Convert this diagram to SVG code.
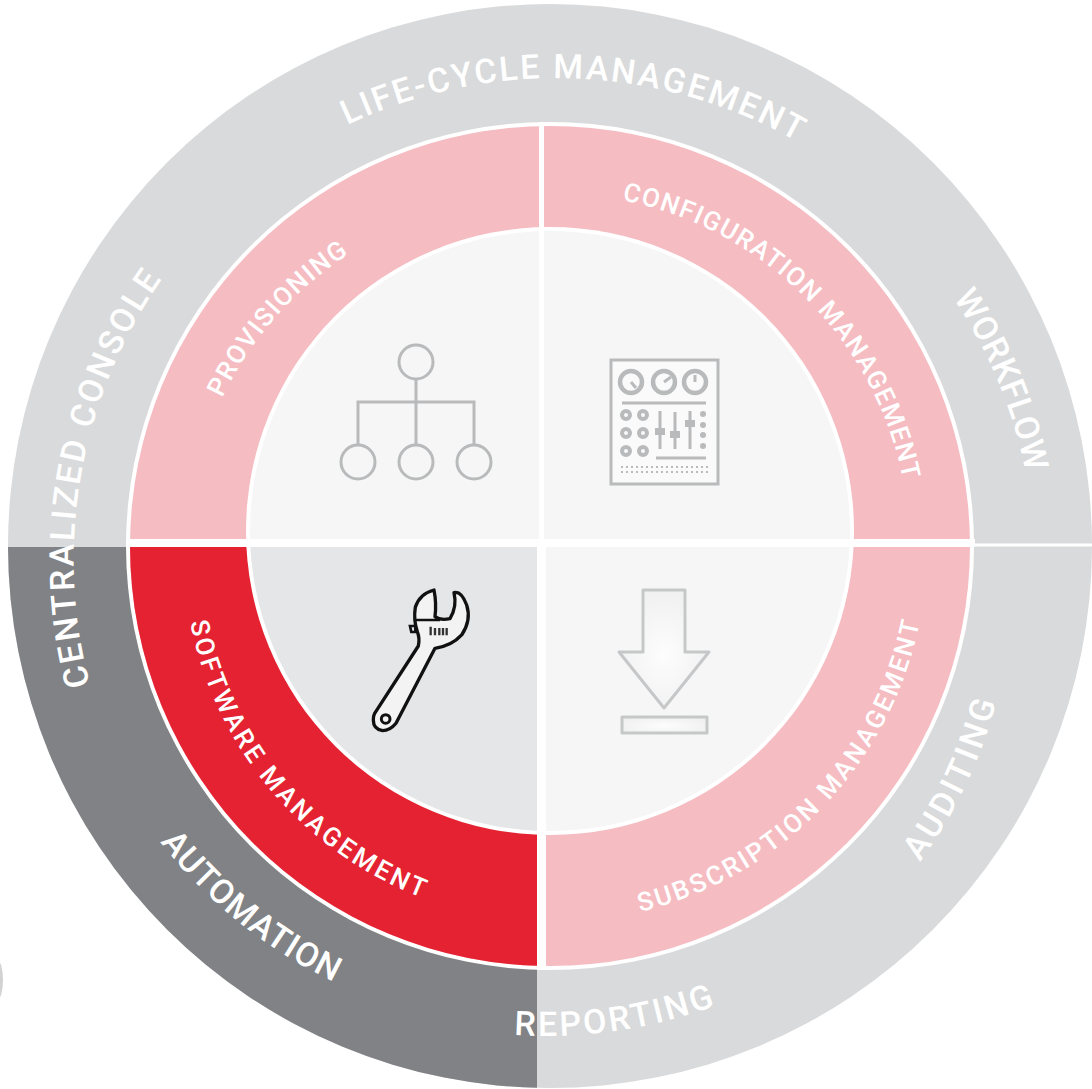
<svg xmlns="http://www.w3.org/2000/svg" width="1092" height="1089" viewBox="0 0 1092 1089">
<style>
.t{font-family:Roboto,"Liberation Sans",sans-serif;font-weight:500;fill:#fff}
.o{font-size:34px}
.p{font-size:26px}
.ic{fill:none;stroke:#b9babb;stroke-width:3}
.gl{fill:none;stroke:#b9babb;stroke-width:3}
.th{stroke-width:4.5}
.kn{stroke-width:4}
.ln{stroke-width:2}
.g{fill:#b9babb}
</style>
<defs>
<clipPath id="ll"><rect x="0" y="547" width="537" height="542"/></clipPath>
<radialGradient id="ag" cx="0.5" cy="0.55" r="0.6"><stop offset="0" stop-color="#fdfdfd"/><stop offset="1" stop-color="#efefef"/></radialGradient>
<path id="pLife" d="M347 125A490 490 0 0 1 803 145"/>
<path id="pCons" d="M90 685A490 490 0 0 1 170 268"/>
<path id="pWork" d="M953 298A480 480 0 0 1 1028 485"/>
<path id="pAudit" d="M920 862A480 480 0 0 0 998 695"/>
<path id="pRep" d="M514 1035A490 490 0 0 0 722 1003"/>
<path id="pAuto" d="M160 842A490 490 0 0 0 340 985"/>
<path id="pProv" d="M222 398A358 358 0 0 1 355 250"/>
<path id="pConf" d="M622 200A358 358 0 0 1 905 490"/>
<path id="pSoft" d="M190 622A372 372 0 0 0 428 900"/>
<path id="pSub" d="M640 912A375 375 0 0 0 922 610"/>
</defs>
<rect width="1092" height="1089" fill="#fff"/>
<ellipse cx="-3" cy="980" rx="6" ry="20" fill="#d2d2d2"/>
<g id="outer-ring">
<circle cx="550" cy="546" r="542" fill="#d9dadb"/>
<circle cx="550" cy="546" r="542" fill="#808285" clip-path="url(#ll)"/>
<rect x="965" y="543.5" width="127" height="3" fill="#fff"/>
</g>
<g id="middle-ring">
<circle cx="550" cy="546" r="424" fill="#fff"/>
<circle cx="550" cy="546" r="420" fill="#f5bcc2"/>
<circle cx="550" cy="546" r="420" fill="#e42231" clip-path="url(#ll)"/>
</g>
<g id="inner-disc">
<circle cx="550" cy="531" r="304" fill="#fff"/>
<circle cx="550" cy="531" r="300" fill="#f6f6f6"/>
<circle cx="550" cy="531" r="300" fill="#e5e6e8" clip-path="url(#ll)"/>
</g>
<g id="dividers" fill="#fff">
<rect x="539" y="122" width="5" height="425"/>
<rect x="537" y="545" width="9" height="425"/>
<rect x="126" y="539" width="849" height="8"/>
</g>
<g id="labels-outer">
<text class="t o"><textPath href="#pLife" textLength="468">LIFE-CYCLE MANAGEMENT</textPath></text>
<text class="t o"><textPath href="#pCons" textLength="425">CENTRALIZED CONSOLE</textPath></text>
<text class="t o"><textPath href="#pWork" textLength="190">WORKFLOW</textPath></text>
<text class="t o"><textPath href="#pAudit" textLength="178">AUDITING</textPath></text>
<text class="t o"><textPath href="#pRep" textLength="205">REPORTING</textPath></text>
<text class="t o"><textPath href="#pAuto" textLength="225">AUTOMATION</textPath></text>
</g>
<g id="labels-middle">
<text class="t p"><textPath href="#pProv" textLength="194">PROVISIONING</textPath></text>
<text class="t p"><textPath href="#pConf" textLength="420">CONFIGURATION MANAGEMENT</textPath></text>
<text class="t p"><textPath href="#pSoft" textLength="376">SOFTWARE MANAGEMENT</textPath></text>
<text class="t p"><textPath href="#pSub" textLength="425">SUBSCRIPTION MANAGEMENT</textPath></text>
</g>
<g id="icon-hierarchy" class="ic">
<circle cx="416" cy="362" r="17"/>
<circle cx="358" cy="462" r="17"/>
<circle cx="416" cy="462" r="17"/>
<circle cx="474" cy="462" r="17"/>
<path d="M416 379V445M358 445V402H474V445"/>
</g>
<g id="icon-panel">
<rect x="611" y="360" width="107" height="124" fill="#fafafa" stroke="#b9babb" stroke-width="3"/>
<g class="gl">
<g class="th">
<circle cx="631" cy="382" r="11"/><circle cx="664" cy="382" r="11"/><circle cx="695" cy="382" r="11"/>
</g>
<path d="M631 382l5 6M664 382l7 -5M695 382v-7"/>
<path d="M622 403H706M656 458H706M660 411V449M675 412V449M690 411V449"/>
<g class="kn">
<circle cx="626" cy="415" r="4"/><circle cx="643" cy="415" r="4"/>
<circle cx="626" cy="433" r="4"/><circle cx="643" cy="433" r="4"/>
<circle cx="626" cy="451" r="4"/><circle cx="643" cy="451" r="4"/>
</g>
<path class="ln" d="M621 467H708M621 472H708" stroke-dasharray="2 3"/>
</g>
<g class="g">
<rect x="655" y="428" width="10" height="7"/><rect x="670" y="431" width="10" height="7"/><rect x="685" y="420" width="10" height="7"/>
<circle cx="703" cy="414" r="3"/><circle cx="703" cy="425" r="3"/><circle cx="703" cy="435" r="3"/><circle cx="703" cy="446" r="3"/>
</g>
</g>
<g id="icon-wrench" transform="translate(340 570) scale(.3333)">
<path d="M104 430L235 228Q240 205 232 185Q220 150 226 112Q238 72 282 60Q290 100 285 140Q300 152 330 146Q352 110 342 68Q364 62 380 105Q395 150 365 195Q335 228 285 235L168 460Q150 482 128 482Q100 478 100 450Q100 438 104 430Z" fill="#f3f3f4" stroke="#111" stroke-width="10" stroke-linejoin="round"/>
<path d="M228 150H300M210 168H226V186H214Z" fill="none" stroke="#111" stroke-width="8"/>
<circle cx="137" cy="447" r="13" fill="none" stroke="#111" stroke-width="9"/>
<path d="M272 170V196M285 174V196M298 174V196M309 174V196M320 174V196" stroke="#333" stroke-width="7"/>
</g>
<g id="icon-download" fill="url(#ag)" stroke="#c6c7c8" stroke-width="3" stroke-linejoin="round">
<path d="M643 590H685V652H709L664 708L619 652H643Z"/>
<rect x="622" y="717" width="85" height="16"/>
</g>
</svg>
